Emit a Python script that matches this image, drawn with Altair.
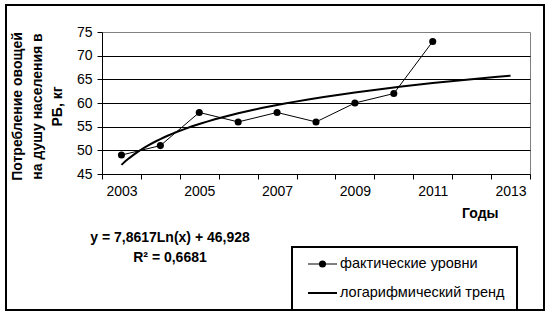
import altair as alt
import pandas as pd

# ---- data ----
years = [2003, 2004, 2005, 2006, 2007, 2008, 2009, 2010, 2011]
consumption = [49, 51, 58, 56, 58, 56, 60, 62, 73]
axis_years = [2003, 2004, 2005, 2006, 2007, 2008, 2009, 2010, 2011, 2012, 2013]
y_ticks = [45, 50, 55, 60, 65, 70, 75]
y_title = ["Потребление овощей", "на душу населения в", "РБ, кг"]
x_title = "Годы"
legend_labels = ["фактические уровни", "логарифмический тренд"]
equation_text = "y = 7,8617Ln(x) + 46,928"
r2_text = "R² = 0,6681"

FONT = "Liberation Sans"
base_year = axis_years[0] - 1
n_periods = len(axis_years)

df = pd.DataFrame({"t": [y - base_year for y in years], "v": consumption})
one = pd.DataFrame({"a": [0]})

x_tick_values = []
for i in range(n_periods):
    x_tick_values += [i + 0.5, i + 1]
x_tick_values.append(n_periods + 0.5)

x_scale = alt.Scale(domain=[0.5, n_periods + 0.5], nice=False, zero=False)
y_scale = alt.Scale(domain=[y_ticks[0], y_ticks[-1]], nice=False, zero=False)

x_axis = alt.Axis(
    values=x_tick_values,
    tickCount=len(x_tick_values),
    labelExpr=f"datum.value % 2 == 1 ? '' + (datum.value + {base_year}) : ''",
    tickOpacity={"condition": {"test": "datum.value % 1 != 0", "value": 1}, "value": 0},
    labelOverlap=False,
    labelFlush=False,
    grid=False,
    domainColor="black",
    tickColor="black",
    tickSize=5,
    labelPadding=5,
    labelFont=FONT,
    labelFontSize=14,
    labelColor="black",
    title=x_title,
    titleFont=FONT,
    titleFontSize=14,
    titleFontWeight="bold",
    titleColor="black",
    titleX=396,
    titleY=39,
    titleAlign="right",
    titleBaseline="middle",
)

y_axis = alt.Axis(
    values=y_ticks,
    tickCount=len(y_ticks),
    labelOverlap=False,
    labelFlush=False,
    grid=True,
    gridColor="black",
    gridOpacity={"condition": {"test": f"datum.value >= {y_ticks[-1]}", "value": 0}, "value": 1},
    domainColor="black",
    tickColor="black",
    tickSize=5,
    labelPadding=5,
    labelFont=FONT,
    labelFontSize=14,
    labelColor="black",
    title=y_title,
    titleFont=FONT,
    titleFontSize=14,
    titleFontWeight="bold",
    titleColor="black",
    titleAngle=270,
    titleX=-85,
    titleY=74,
    titleAlign="center",
    titleBaseline="middle",
    titleLineHeight=20,
)

outer = alt.Chart(one).mark_rect(fillOpacity=0, stroke="black", strokeWidth=2).encode(
    x=alt.value(-96), x2=alt.value(442), y=alt.value(-27), y2=alt.value(278)
)

actual = alt.Chart(df).mark_line(
    color="black", strokeWidth=1,
    point=alt.OverlayMarkDef(filled=True, size=50, color="black", opacity=1),
).encode(
    x=alt.X("t:Q", scale=x_scale, axis=x_axis),
    y=alt.Y("v:Q", scale=y_scale, axis=y_axis),
)

trend = alt.Chart(df).transform_regression(
    "t", "v", method="log", extent=[1, n_periods]
).mark_line(color="black", strokeWidth=2).encode(
    x=alt.X("t:Q", scale=x_scale),
    y=alt.Y("v:Q", scale=y_scale),
)

eq1 = alt.Chart(one).mark_text(
    text=equation_text, font=FONT, fontSize=14, fontWeight="bold", color="black",
    align="center", baseline="middle",
).encode(x=alt.value(68), y=alt.value(206))

eq2 = alt.Chart(one).mark_text(
    text=r2_text, font=FONT, fontSize=14, fontWeight="bold", color="black",
    align="center", baseline="middle",
).encode(x=alt.value(68), y=alt.value(226))

legend_box = alt.Chart(one).mark_rect(fill="white", stroke="black", strokeWidth=2).encode(
    x=alt.value(190), x2=alt.value(415), y=alt.value(215), y2=alt.value(278)
)

leg_rule1 = alt.Chart(one).mark_rule(color="black", strokeWidth=1).encode(
    x=alt.value(206), x2=alt.value(235), y=alt.value(232)
)
leg_pt1 = alt.Chart(one).mark_point(filled=True, size=50, color="black", opacity=1).encode(
    x=alt.value(220.5), y=alt.value(232)
)
leg_txt1 = alt.Chart(one).mark_text(
    text=legend_labels[0], font=FONT, fontSize=14.5, color="black", align="left", baseline="middle"
).encode(x=alt.value(238), y=alt.value(232))

leg_rule2 = alt.Chart(one).mark_rule(color="black", strokeWidth=2).encode(
    x=alt.value(206), x2=alt.value(235), y=alt.value(261)
)
leg_txt2 = alt.Chart(one).mark_text(
    text=legend_labels[1], font=FONT, fontSize=14.5, color="black", align="left", baseline="middle"
).encode(x=alt.value(238), y=alt.value(261))

chart = alt.layer(
    outer, actual, trend, eq1, eq2, legend_box, leg_rule1, leg_pt1, leg_txt1, leg_rule2, leg_txt2
).properties(
    width=428,
    height=142,
    autosize=alt.AutoSizeParams(type="none"),
    padding={"left": 102, "top": 32, "right": 20, "bottom": 142},
    background="white",
).configure_view(stroke="#808080", strokeWidth=1)

chart.save("out.html", embed_options={"renderer": "svg", "actions": False})
